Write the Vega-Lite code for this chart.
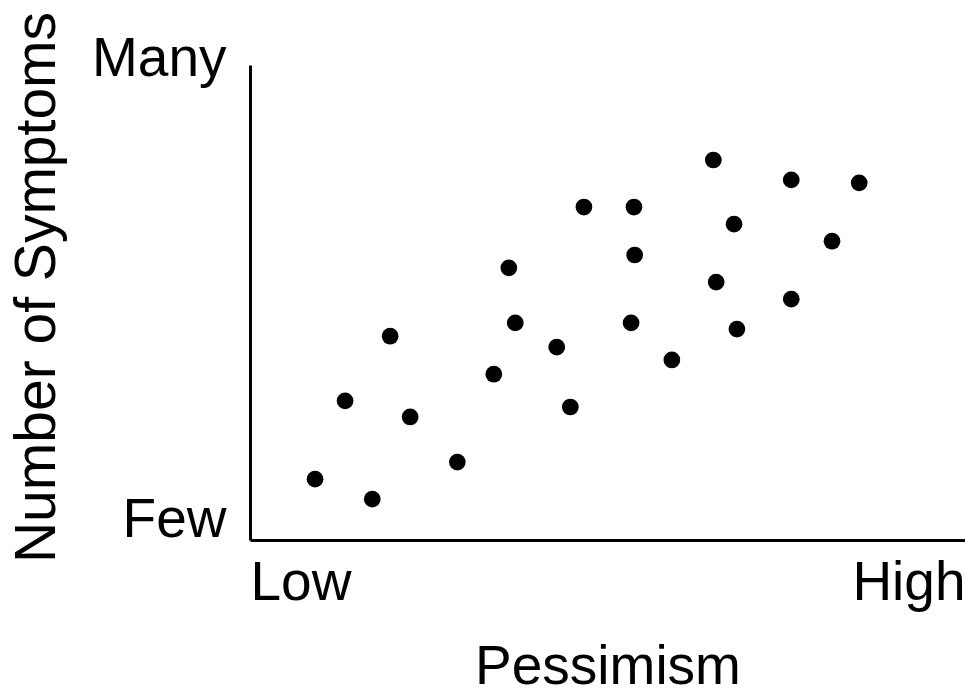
{
  "$schema": "https://vega.github.io/schema/vega-lite/v6.json",
  "width": 715,
  "height": 475,
  "autosize": "none",
  "padding": {"left": 250, "top": 65, "right": 0, "bottom": 154},
  "background": "white",
  "config": {"view": {"stroke": null}, "font": "Liberation Sans"},
  "data": {
    "values": [
      {"pessimism": 9.1, "symptoms": 12.8},
      {"pessimism": 17.1, "symptoms": 8.6},
      {"pessimism": 13.3, "symptoms": 29.3},
      {"pessimism": 19.6, "symptoms": 42.9},
      {"pessimism": 22.4, "symptoms": 25.9},
      {"pessimism": 29.0, "symptoms": 16.4},
      {"pessimism": 34.1, "symptoms": 34.9},
      {"pessimism": 36.2, "symptoms": 57.3},
      {"pessimism": 37.1, "symptoms": 45.7},
      {"pessimism": 42.9, "symptoms": 40.6},
      {"pessimism": 44.8, "symptoms": 28.0},
      {"pessimism": 46.7, "symptoms": 70.1},
      {"pessimism": 53.7, "symptoms": 70.1},
      {"pessimism": 53.8, "symptoms": 60.0},
      {"pessimism": 53.3, "symptoms": 45.7},
      {"pessimism": 59.0, "symptoms": 37.9},
      {"pessimism": 64.8, "symptoms": 80.0},
      {"pessimism": 67.7, "symptoms": 66.5},
      {"pessimism": 65.2, "symptoms": 54.3},
      {"pessimism": 68.1, "symptoms": 44.4},
      {"pessimism": 75.7, "symptoms": 75.8},
      {"pessimism": 81.4, "symptoms": 62.9},
      {"pessimism": 85.2, "symptoms": 75.2},
      {"pessimism": 75.7, "symptoms": 50.7}
    ]
  },
  "mark": {"type": "circle", "size": 280, "color": "black", "opacity": 1},
  "encoding": {
    "x": {
      "field": "pessimism",
      "type": "quantitative",
      "scale": {"domain": [0, 100], "nice": false, "zero": false},
      "axis": {
        "title": "Pessimism",
        "values": [0, 100],
        "labelExpr": "datum.value == 0 ? 'Low' : 'High'",
        "labelFlush": true,
        "labelFontSize": 55,
        "labelColor": "black",
        "labelPadding": 16,
        "ticks": false,
        "grid": false,
        "domainColor": "black",
        "domainWidth": 3,
        "titleFontSize": 55,
        "titleFontWeight": "normal",
        "titleColor": "black",
        "titlePadding": 30
      }
    },
    "y": {
      "field": "symptoms",
      "type": "quantitative",
      "scale": {"domain": [0, 100], "nice": false, "zero": false},
      "axis": {
        "title": "Number of Symptoms",
        "values": [0, 100],
        "labelExpr": "datum.value == 0 ? 'Few' : 'Many'",
        "labelBaseline": "alphabetic",
        "labelOffset": {"expr": "datum.value == 0 ? -4 : 10"},
        "labelFontSize": 55,
        "labelColor": "black",
        "labelPadding": 24,
        "ticks": false,
        "grid": false,
        "domainColor": "black",
        "domainWidth": 3,
        "titleFontSize": 57,
        "titleFontWeight": "normal",
        "titleColor": "black",
        "titlePadding": 25,
        "titleY": 222
      }
    }
  }
}
